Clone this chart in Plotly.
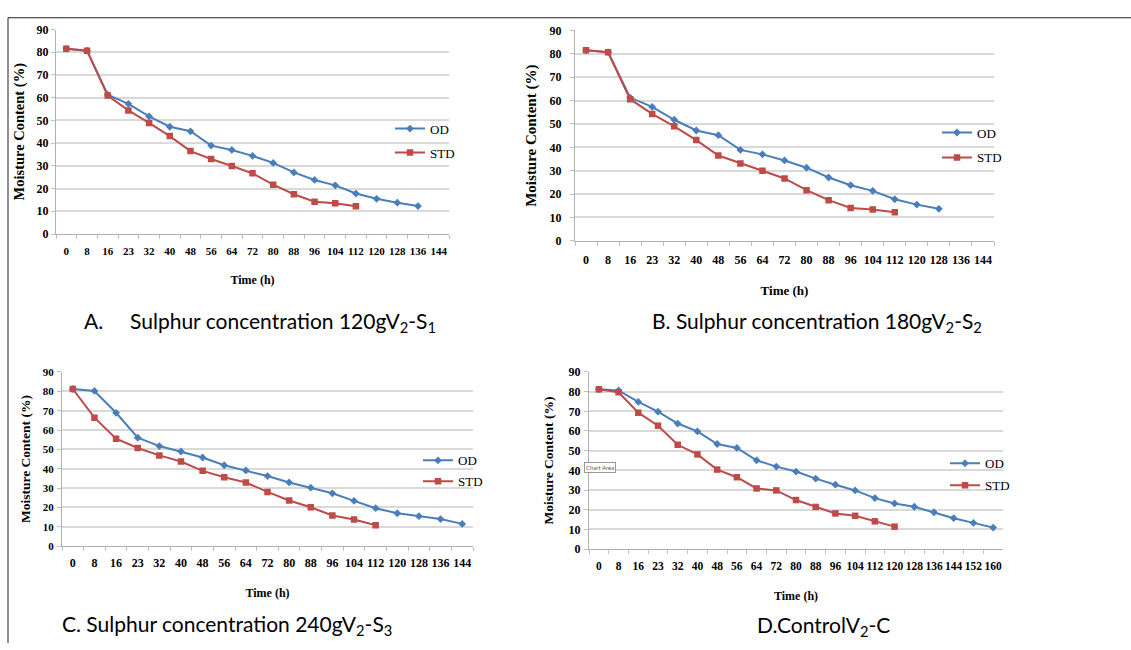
import plotly.graph_objects as go

W, H = 1131, 650

# ---------------- data ----------------
time_abc = ["0", "8", "16", "23", "32", "40", "48", "56", "64", "72", "80", "88",
            "96", "104", "112", "120", "128", "136", "144"]
time_d = ["0", "8", "16", "23", "32", "40", "48", "56", "64", "72", "80", "88",
          "96", "104", "112", "120", "128", "136", "144", "152", "160"]

a_od = [81.5, 80.7, 61.3, 57.3, 51.8, 47.2, 45.2, 38.9, 37.0, 34.4, 31.3, 27.1,
        23.8, 21.4, 17.8, 15.5, 13.8, 12.3]
a_std = [81.5, 80.7, 60.9, 54.4, 48.9, 43.1, 36.5, 33.0, 29.9, 26.7, 21.7, 17.5,
         14.2, 13.5, 12.2]
b_od = [81.5, 80.7, 61.3, 57.3, 51.8, 47.2, 45.2, 38.9, 37.0, 34.4, 31.3, 27.1,
        23.8, 21.4, 17.8, 15.5, 13.7]
b_std = [81.5, 80.7, 60.6, 54.3, 49.0, 43.1, 36.5, 33.1, 30.0, 26.7, 21.7, 17.4,
         14.1, 13.4, 12.2]
c_od = [81.2, 80.2, 68.9, 56.0, 51.7, 48.9, 45.8, 41.8, 39.1, 36.2, 32.9, 30.2,
        27.3, 23.4, 19.6, 17.0, 15.5, 14.0, 11.5]
c_std = [81.2, 66.4, 55.5, 50.7, 46.9, 43.7, 38.9, 35.6, 32.9, 28.0, 23.6, 20.1,
         15.8, 13.8, 10.8]
d_od = [81.2, 80.6, 74.8, 69.8, 63.8, 59.8, 53.4, 51.4, 45.1, 41.9, 39.4, 35.8,
        32.7, 29.8, 25.9, 23.2, 21.5, 18.7, 15.7, 13.3, 10.9]
d_std = [81.2, 79.7, 69.3, 62.7, 53.0, 48.1, 40.4, 36.5, 30.8, 29.8, 24.9, 21.4,
         18.1, 16.9, 14.1, 11.4]

series_names = ["OD", "STD"]
captions = [
    "A.&nbsp;&nbsp;&nbsp;&nbsp; Sulphur concentration 120gV<sub>2</sub>-S<sub>1</sub>",
    "B. Sulphur concentration 180gV<sub>2</sub>-S<sub>2</sub>",
    "C. Sulphur concentration 240gV<sub>2</sub>-S<sub>3</sub>",
    "D.ControlV<sub>2</sub>-C",
]
x_title = "Time (h)"
y_title = "Moisture Content (%)"

# ---------------- style / layout ----------------
OD_COLOR = "#4a7ebb"
STD_COLOR = "#be4b48"
SERIF = "Liberation Serif, Times New Roman, serif"
SANS = "Lato, Open Sans, sans-serif"


def px_x(p):
    return p / W


def px_y(p):
    return 1 - p / H


# panel pixel boxes: left, right, top, bottom
panels = [
    dict(box=(56, 449, 23, 232), cats=time_abc, od=a_od, std=a_std,
         xfs=11, yfs=12, ttl=14.5, xtfs=12,
         xstand=19, ystand=8, ltick=7, ylstand=0, legend=(390, 109), gap=4,
         cap=(260, 322, 21)),
    dict(box=(575, 994, 24, 239), cats=time_abc, od=b_od, std=b_std,
         xfs=12, yfs=12, ttl=15, xtfs=13,
         xstand=19, ystand=9, ltick=8, ylstand=6, legend=(937, 113), gap=5,
         cap=(817, 322, 21)),
    dict(box=(62, 473, 373, 551), cats=time_abc, od=c_od, std=c_std,
         xfs=12, yfs=11, ttl=13.5, xtfs=12,
         xstand=20, ystand=9, ltick=5, ylstand=1, legend=(418, 448), gap=1,
         cap=(227, 632, 21)),
    dict(box=(589, 1003, 373, 554), cats=time_d, od=d_od, std=d_std,
         xfs=11.5, yfs=12, ttl=13.5, xtfs=12,
         xstand=20, ystand=11, ltick=6, ylstand=1, legend=(945, 451), gap=2,
         cap=(823, 633, 21)),
]

fig = go.Figure()
layout = dict(
    width=W, height=H, margin=dict(l=0, r=0, t=0, b=0),
    paper_bgcolor="white", plot_bgcolor="white", showlegend=True,
)
annotations = []

for i, p in enumerate(panels):
    n = i + 1
    xa = "x" if n == 1 else f"x{n}"
    ya = "y" if n == 1 else f"y{n}"
    lg = "legend" if n == 1 else f"legend{n}"
    l, r, t, b = p["box"]
    cats = p["cats"]

    fig.add_trace(go.Scatter(
        x=cats[:len(p["od"])], y=p["od"], name=series_names[0], mode="lines+markers",
        line=dict(color=OD_COLOR, width=2), legendgroup=f"od{n}",
        marker=dict(symbol="diamond", size=6, color=OD_COLOR),
        xaxis=xa, yaxis=ya, legend=lg))
    fig.add_trace(go.Scatter(
        x=cats[:len(p["std"])], y=p["std"], name=series_names[1], mode="lines+markers",
        line=dict(color=STD_COLOR, width=2), legendgroup=f"std{n}",
        marker=dict(symbol="square", size=6.5, color=STD_COLOR),
        xaxis=xa, yaxis=ya, legend=lg))

    xkey = "xaxis" if n == 1 else f"xaxis{n}"
    ykey = "yaxis" if n == 1 else f"yaxis{n}"
    layout[xkey] = dict(
        domain=[px_x(l), px_x(r)], anchor=ya, type="category",
        categoryorder="array", categoryarray=cats, range=[-0.5, len(cats) - 0.5],
        showgrid=False, showline=True, linecolor="#b0b0b0", linewidth=1,
        ticks="outside", tickson="boundaries", ticklen=4, tickcolor="#c0c0c0",
        tickangle=0,
        tickfont=dict(family=SERIF, size=p["xfs"], color="black", weight="bold"),
        ticklabelstandoff=p["ltick"],
        title=dict(text=x_title, standoff=p["xstand"],
                   font=dict(family=SERIF, size=p["xtfs"], color="black", weight="bold")),
        fixedrange=True,
    )
    layout[ykey] = dict(
        domain=[px_y(b), px_y(t)], anchor=xa, range=[0, 90], dtick=10,
        showgrid=True, gridcolor="#d9d9d9", gridwidth=1.5, zeroline=False,
        showline=True, linecolor="#b0b0b0", linewidth=1,
        ticks="outside", ticklen=4, tickcolor="#c0c0c0",
        ticklabelstandoff=p["ylstand"],
        tickfont=dict(family=SERIF, size=p["yfs"], color="black", weight="bold"),
        title=dict(text=y_title, standoff=p["ystand"],
                   font=dict(family=SERIF, size=p["ttl"], color="black", weight="bold")),
        fixedrange=True,
    )
    lx, ly = p["legend"]
    layout[lg] = dict(
        x=px_x(lx), y=px_y(ly), xanchor="left", yanchor="top",
        bgcolor="rgba(0,0,0,0)", traceorder="grouped", tracegroupgap=p["gap"],
        font=dict(family=SERIF, size=13, color="black"),
    )
    cx, cy, cfs = p["cap"]
    annotations.append(dict(
        x=px_x(cx), y=px_y(cy), xref="paper", yref="paper", text=captions[i],
        showarrow=False, xanchor="center", yanchor="middle",
        font=dict(family=SANS, size=cfs, color="black"),
    ))

# small "Chart Area" tooltip seen in panel D
annotations.append(dict(
    x=px_x(584), y=px_y(471), xref="paper", yref="paper", text="Chart Area",
    showarrow=False, xanchor="left", yanchor="middle",
    font=dict(family=SANS, size=6, color="#555555"),
    bordercolor="#999999", borderwidth=1, bgcolor="white", borderpad=1,
))

layout["annotations"] = annotations
layout["shapes"] = [
    dict(type="line", xref="paper", yref="paper", x0=px_x(8), x1=1, y0=px_y(11), y1=px_y(11),
         line=dict(color="#222222", width=1)),
    dict(type="line", xref="paper", yref="paper", x0=px_x(8), x1=px_x(8), y0=px_y(11), y1=0,
         line=dict(color="#222222", width=1)),
]
fig.update_layout(**layout)

fig.write_html("out.html", post_script="document.body.style.margin='0';",
               config={"displayModeBar": False})
